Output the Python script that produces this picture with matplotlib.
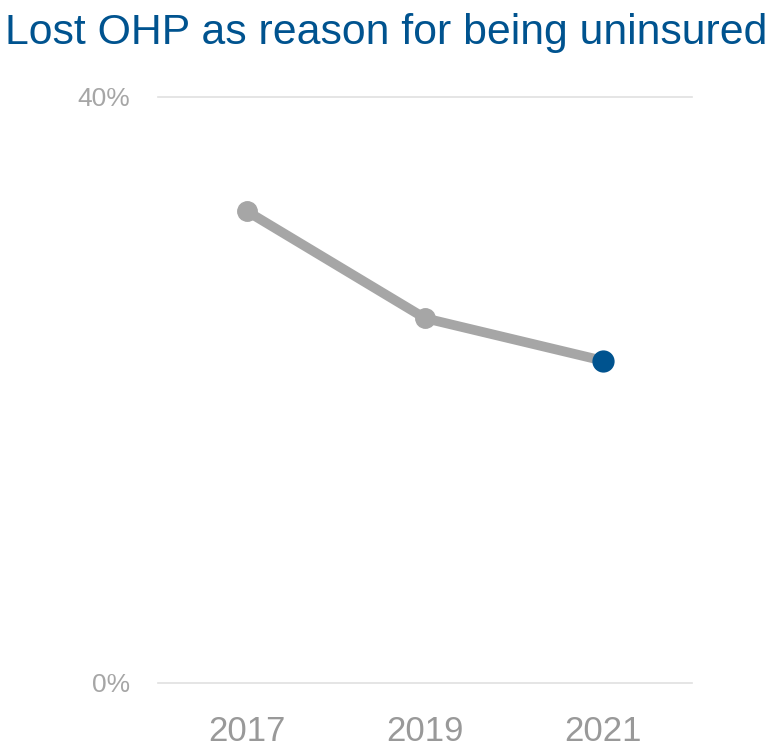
import matplotlib
matplotlib.use("Agg")
import matplotlib.pyplot as plt
from matplotlib import font_manager

names = {f.name for f in font_manager.fontManager.ttflist}
fam = [n for n in ["Liberation Sans Narrow", "Liberation Sans", "DejaVu Sans"] if n in names]
plt.rcParams['font.family'] = fam

years = ["2017", "2019", "2021"]
values = [32.2, 24.9, 22.0]
yticks = [0, 40]
ytick_labels = ["0%", "40%"]

grey = "#a6a6a6"
blue = "#00538f"

fig = plt.figure(figsize=(7.74, 7.5), dpi=100)
ax = fig.add_axes([158/774, 1 - 683/750, (692 - 158)/774, (683 - 97)/750])

x = list(range(len(years)))
ax.plot(x, values, color=grey, lw=7, marker="o", ms=14, solid_capstyle="round",
        clip_on=False, zorder=3)
ax.plot(x[-1], values[-1], "o", color=blue, ms=15, clip_on=False, zorder=4)

ax.set_xlim(-0.5, 2.5)
ax.set_ylim(0, 40)
ax.set_yticks(yticks)
ax.set_yticklabels(ytick_labels)
ax.set_xticks(x)
ax.set_xticklabels(years)
for y in yticks:
    ax.axhline(y, color="#e0e0e0", lw=1.2, zorder=1, clip_on=False)

for s in ax.spines.values():
    s.set_visible(False)
ax.tick_params(axis="y", length=0, pad=20, labelsize=19, labelcolor="#a6a6a6")
ax.tick_params(axis="x", length=0, pad=23, labelsize=25, labelcolor="#999999")

fig.text(5/774, 1 - 44/750, "Lost OHP as reason for being uninsured", color=blue,
         fontsize=30.8, ha="left", va="baseline")

fig.savefig("out.png", dpi=100)
